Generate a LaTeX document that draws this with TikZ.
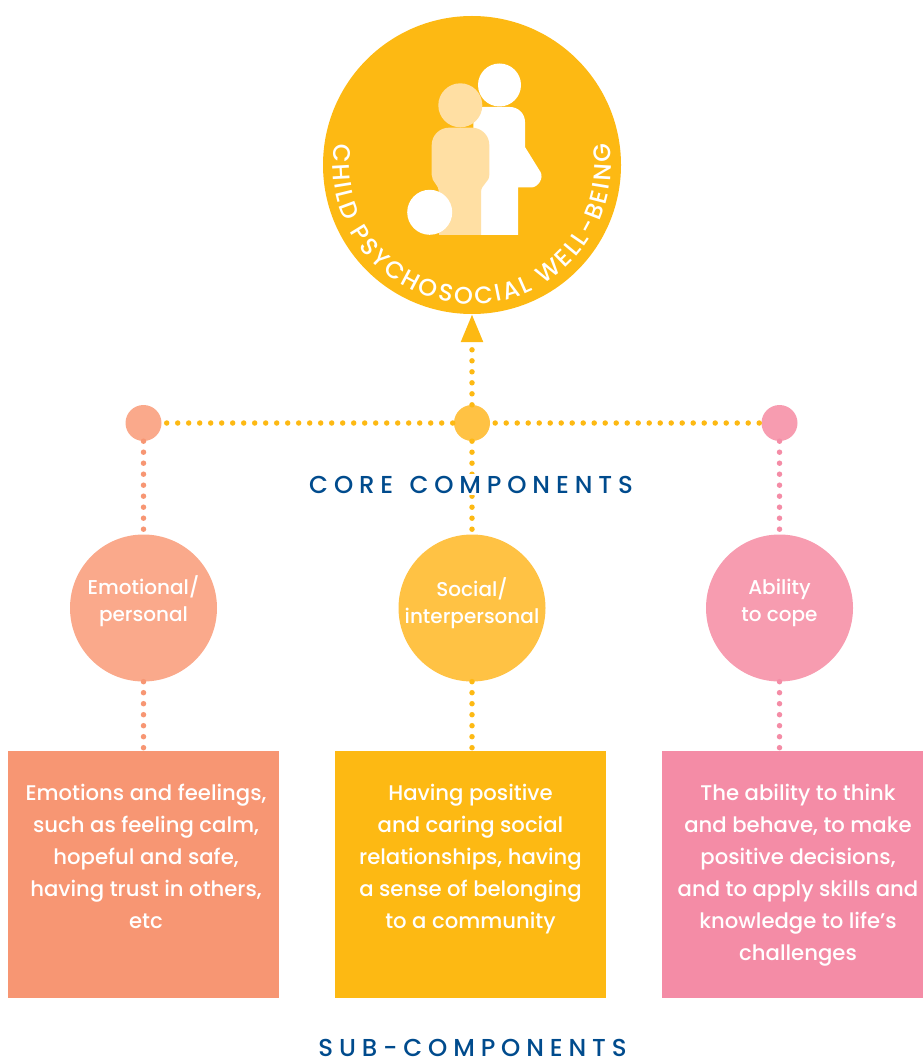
\documentclass[tikz,border=0pt]{standalone}
\usepackage{fontspec}
\setmainfont{Poppins Medium}
\newfontfamily\capsfont[LetterSpace=24]{Poppins Medium}
\usetikzlibrary{arrows.meta,decorations.text}
\definecolor{ringyellow}{HTML}{FDB913}
\definecolor{midyellow}{HTML}{FFC244}
\definecolor{peach}{HTML}{FFDFA3}
\definecolor{salmon}{HTML}{F79673}
\definecolor{lightsalmon}{HTML}{FAA98B}
\definecolor{rose}{HTML}{F48CA6}
\definecolor{lightrose}{HTML}{F79CB0}
\definecolor{navy}{HTML}{004B8D}
\tikzset{
  dots/.style={line width=5.5pt,line cap=round,dash pattern=on 0pt off 11pt},
  hub/.style={circle,fill=#1,minimum size=36pt,inner sep=0pt},
  core/.style={circle,fill=#1,minimum size=147pt,inner sep=0pt,text=white},
  corelabel/.style={text=white,align=center,inner sep=0pt,font=\fontsize{20}{27}\selectfont},
  subbox/.style={fill=#1,minimum height=247pt,inner sep=0pt},
  subtext/.style={text=white,align=center,anchor=north,inner sep=0pt,font=\fontsize{21.2}{32}\selectfont},
  heading/.style={text=navy,inner sep=2pt,font=\capsfont\fontsize{24.5}{25}\selectfont},
}
\begin{document}
\begin{tikzpicture}[x=1pt,y=1pt]
    \useasboundingbox (0,0) rectangle (923,-1059);

    \node[circle,fill=ringyellow,minimum size=298pt,inner sep=0pt] (ring) at (472,-165){};

    \fill[white] (499.5,-85) circle (21.5);
    \fill[white] (474,-107)--(510,-107) to[out=0,in=90] (525,-122)--(525,-147)--(540.5,-172)
      to[out=-60,in=0] (531,-187.5)--(518,-187.5)--(518,-235)--(470,-235)--cycle;
    \fill[peach] (460.3,-105.3) circle (22);
    \fill[peach] (449,-127.7)--(472,-127.7) to[out=0,in=90] (489.3,-145)--(489.3,-175)
      to[out=-90,in=90] (481,-192)--(481,-235)--(439,-235)--(439,-192)
      to[out=90,in=-90] (431.7,-175)--(431.7,-145) to[out=90,in=180] cycle;
    \fill[white] (429.7,-212.3) circle (22.5);

    \path[decorate,decoration={text along path,text align=fit to path,text color=white,
      text={|\fontsize{24}{25}\selectfont|CHILD PSYCHOSOCIAL WELL-BEING}}]
      (ring.center) ++(171:139) arc (171:369:139);

    \node[hub=lightsalmon] (hubEmo) at (143.5,-423){};
    \node[hub=midyellow] (hubSoc) at (472,-423){};
    \node[hub=lightrose] (hubCope) at (779.5,-423){};

    \node[core=lightsalmon] (emo) at (143.5,-608){};
    \node[core=midyellow] (soc) at (472,-608){};
    \node[core=lightrose] (cope) at (779.5,-608){};
    \node[corelabel] (emoLabel) at (143.5,-601){Emotional/\\personal};
    \node[corelabel] (socLabel) at (472,-603){Social/\\interpersonal};
    \node[corelabel] (copeLabel) at (779.5,-603){Ability\\to cope};

    \node[subbox=salmon,minimum width=271pt] (emoBox) at (143.5,-874.5){};
    \node[subbox=ringyellow,minimum width=271pt] (socBox) at (470.5,-874.5){};
    \node[subbox=rose,minimum width=261pt] (copeBox) at (792.5,-874.5){};

    \node[subtext] (emoText) at (146,-784){Emotions and feelings,\\such as feeling calm,\\hopeful and safe,\\having trust in others,\\etc};
    \node[subtext] (socText) at (470.5,-784){Having positive\\and caring social\\relationships, having\\a sense of belonging\\to a community};
    \node[subtext] (copeText) at (798,-784){The ability to think\\and behave, to make\\positive decisions,\\and to apply skills and\\knowledge to life’s\\challenges};

    \draw[dots,ringyellow,shorten <=5pt] (hubEmo) -- (hubSoc);
    \draw[dots,ringyellow,shorten <=5pt] (hubSoc) -- (hubCope);
    \draw[dots,ringyellow,-{Triangle[length=28pt,width=21pt]}] (hubSoc) -- (ring);
    \draw[dots,salmon] (hubEmo) -- (emo);
    \draw[dots,ringyellow] (hubSoc) -- (soc);
    \draw[dots,rose] (hubCope) -- (cope);
    \draw[dots,salmon] (emo) -- (emo |- emoBox.north);
    \draw[dots,ringyellow] (soc) -- (soc |- socBox.north);
    \draw[dots,rose] (cope) -- (cope |- copeBox.north);

    \node[heading,fill=white] (coreLabel) at (471,-484.5){CORE\hspace{4pt} COMPONENTS};
    \node[heading] (subLabel) at (472.5,-1047.5){SUB-COMPONENTS};
\end{tikzpicture}
\end{document}
